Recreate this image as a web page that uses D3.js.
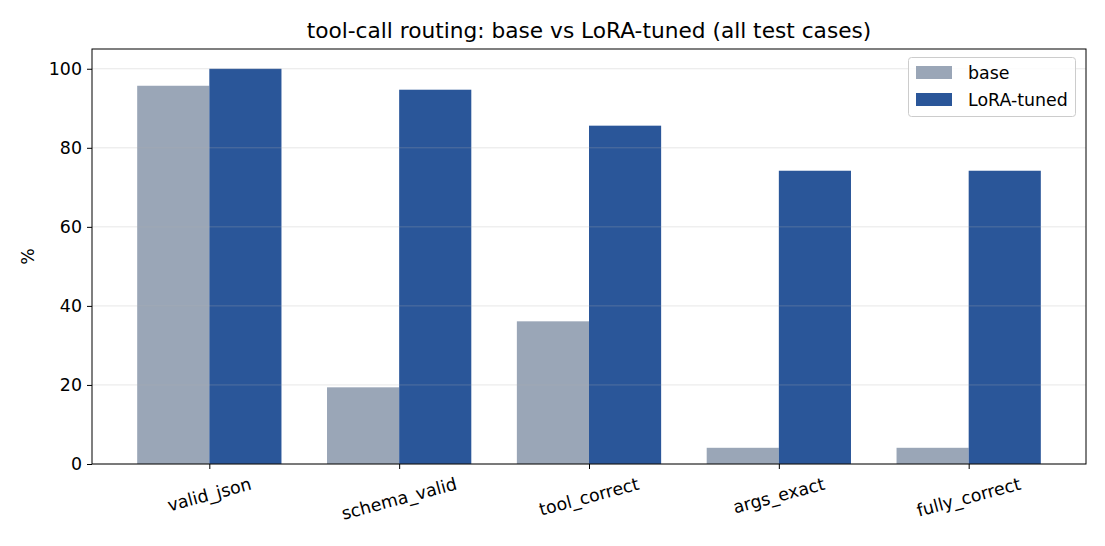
<!DOCTYPE html>
<html><head><meta charset="utf-8">
<script src="https://cdn.jsdelivr.net/npm/d3@7"></script>
<style>body{margin:0;background:#fff;} text{font-family:"DejaVu Sans",sans-serif;}</style>
</head><body>
<svg id="c" width="1105" height="546"></svg>
<script>
const categories = ["valid_json","schema_valid","tool_correct","args_exact","fully_correct"];
const baseValues = [95.7, 19.4, 36.1, 4.1, 4.1];
const loraValues = [100, 94.7, 85.6, 74.2, 74.2];
const seriesNames = ["base","LoRA-tuned"];
const yTicks = [0,20,40,60,80,100];
const colors = ["#9aa6b7","#2a5699"];
const title = "tool-call routing: base vs LoRA-tuned (all test cases)";

const FS = 17.4, TFS = 21.7, TICK = 5;
const svg = d3.select("#c");
const L=92, R=1086, T=49, B=464;
const bw = 0.38;
const span = categories.length-1+2*bw;
const x = d3.scaleLinear().domain([-bw - 0.05*span, categories.length-1+bw+0.05*span]).range([L,R]);
const y = d3.scaleLinear().domain([0,105]).range([B,T]);

const series = [baseValues, loraValues];
series.forEach((vals,si)=>{
  svg.append("g").selectAll("rect").data(vals).join("rect")
    .attr("x",(d,i)=> si===0 ? x(i-bw) : x(i))
    .attr("width", x(bw)-x(0))
    .attr("y", d=>y(d))
    .attr("height", d=>B-y(d))
    .attr("fill", colors[si]);
});

// grid on top
svg.append("g").selectAll("line").data(yTicks).join("line")
  .attr("x1",L).attr("x2",R).attr("y1",d=>y(d)).attr("y2",d=>y(d))
  .attr("stroke","#b0b0b0").attr("stroke-opacity",0.3).attr("stroke-width",1);

// axes frame
svg.append("rect").attr("x",L).attr("y",T).attr("width",R-L).attr("height",B-T)
  .attr("fill","none").attr("stroke","#000").attr("stroke-width",1);

// y axis
const ya = svg.append("g").attr("transform",`translate(${L},0)`)
  .call(d3.axisLeft(y).tickValues(yTicks).tickSize(TICK).tickPadding(5));
ya.attr("font-size",null).attr("font-family",null);
ya.select(".domain").remove();
ya.selectAll("text").style("font-size",FS+"px").attr("fill","#000").style("font-family","DejaVu Sans");
ya.selectAll("line").attr("stroke","#000");

// x axis
const xa = svg.append("g").attr("transform",`translate(0,${B})`)
  .call(d3.axisBottom(x).tickValues(d3.range(categories.length)).tickFormat(i=>categories[i]).tickSize(TICK));
xa.select(".domain").remove();
xa.selectAll("line").attr("stroke","#000");
xa.selectAll("text").remove();
categories.forEach((c,i)=>{
  const t = svg.append("text").text(c).style("font-size",FS+"px").attr("text-anchor","middle")
    .attr("dominant-baseline","central");
  const w = t.node().getComputedTextLength();
  const h = FS*1.0;
  const a = 15*Math.PI/180;
  const bh = w*Math.sin(a) + h*Math.cos(a);
  const cy = B + TICK + 6 + bh/2;
  t.attr("transform",`translate(${x(i)},${cy}) rotate(-15)`);
});

// title
svg.append("text").text(title).attr("x",(L+R)/2).attr("y",38).attr("text-anchor","middle")
  .style("font-size",TFS+"px");

// y label
svg.append("text").text("%").attr("transform",`translate(34,${(T+B)/2}) rotate(-90)`)
  .attr("text-anchor","middle").style("font-size",FS+"px");

// legend
const lg = svg.append("g");
lg.append("rect").attr("x",908.5).attr("y",57.5).attr("width",167).attr("height",59).attr("rx",3)
  .attr("fill","#fff").attr("fill-opacity",0.8).attr("stroke","#ccc");
seriesNames.forEach((n,i)=>{
  lg.append("rect").attr("x",916).attr("y",66+i*27).attr("width",36).attr("height",13).attr("fill",colors[i]);
  lg.append("text").text(n).attr("x",968).attr("y",79+i*27).style("font-size",FS+"px");
});
</script>
</body></html>
